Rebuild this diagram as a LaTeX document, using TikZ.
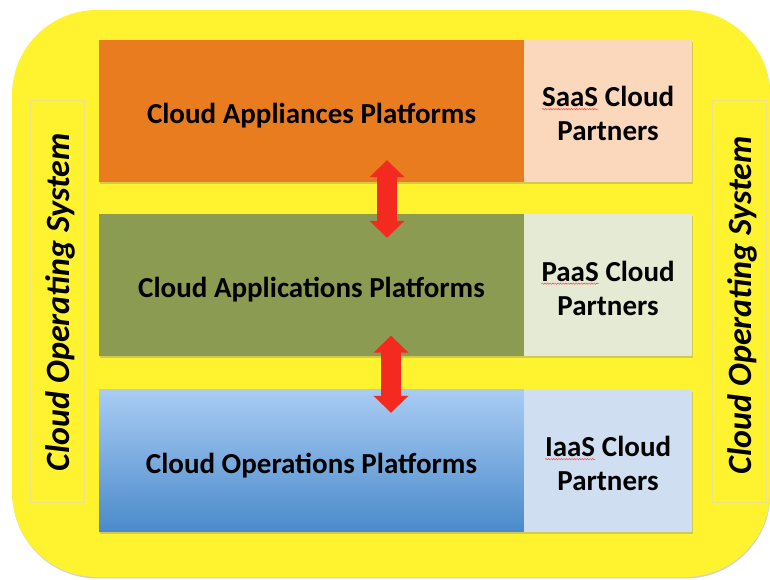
\documentclass[tikz,border=0pt]{standalone}
\usepackage{fontspec}
\setmainfont{Carlito}
\usetikzlibrary{shadows,decorations.pathmorphing,arrows.meta,calc}
\definecolor{osyellow}{HTML}{FFF22E}
\definecolor{sideline}{HTML}{EDE38A}
\definecolor{appl}{HTML}{E97C1F}
\definecolor{saas}{HTML}{FBD7BC}
\definecolor{appg}{HTML}{8B9C52}
\definecolor{paas}{HTML}{E4EAD3}
\definecolor{opstop}{HTML}{A9CCF3}
\definecolor{opsbot}{HTML}{4A8ACB}
\definecolor{iaas}{HTML}{CFDFF1}
\definecolor{arrowred}{HTML}{F4291F}
\newcommand{\wavyword}[1]{\tikz[baseline=(w.base)]{\node[inner sep=0pt,outer sep=0pt,minimum width=0pt,minimum height=0pt,draw=none,fill=none,anchor=base] (w) {#1};\draw[red!75,line width=0.45pt,decorate,decoration={snake,amplitude=0.7pt,segment length=2.6pt}] ([yshift=-2.6pt]w.base west) -- ([yshift=-2.6pt]w.base east);}}
\begin{document}
\begin{tikzpicture}[x=1pt,y=1pt,
  osframe/.style={fill=osyellow,draw=none,rounded corners=85pt,minimum width=758pt,minimum height=567pt,inner sep=0pt,
    drop shadow={shadow xshift=0.5pt,shadow yshift=-1.5pt,opacity=0.35}},
  sidebox/.style={draw=sideline,line width=0.8pt,fill=none,minimum width=54pt,minimum height=402pt,inner sep=0pt},
  sidetext/.style={font=\bfseries\itshape\fontsize{34}{40}\selectfont,rotate=90,inner sep=0pt},
  platform/.style={minimum width=425pt,minimum height=142pt,inner sep=0pt,draw=none,
    drop shadow={shadow xshift=1pt,shadow yshift=-2pt,opacity=0.35}},
  platformtext/.style={font=\bfseries\fontsize{29}{34}\selectfont,inner sep=0pt},
  partner/.style={minimum width=168pt,minimum height=142pt,inner sep=0pt,draw=none,
    drop shadow={shadow xshift=1pt,shadow yshift=-2pt,opacity=0.35}},
  partnertext/.style={font=\bfseries\fontsize{29}{34}\selectfont,align=center,inner sep=0pt},
  blockarrow/.style={draw=arrowred,line width=20pt,
    {Triangle[length=17pt,width=34pt]}-{Triangle[length=17pt,width=34pt]}}
]
\useasboundingbox (0,0) rectangle (770,580);
\fill[white] (0,0) rectangle (770,580);
\node[osframe] (os) at (391,286.5) {};
\node[sidebox] (lbox) at (57,279) {};
\node[sidebox] (rbox) at (739,279) {};
\node[sidetext] (ltext) at (60,278) {Cloud Operating System};
\node[sidetext] (rtext) at (742,275) {Cloud Operating System};

\node[platform,fill=appl] (appl) at (311.5,469) {};
\node[platformtext] (applt) at ([yshift=-4.5pt]appl.center) {Cloud Appliances Platforms};
\node[partner,fill=saas] (saasbox) at (608,469) {};
\node[partnertext] (saast) at ([yshift=-2.5pt]saasbox.center) {\wavyword{SaaS} Cloud\\Partners};

\node[platform,fill=appg] (appg) at (311.5,294.5) {};
\node[platformtext] (appgt) at ([yshift=-4.5pt]appg.center) {Cloud Applications Platforms};
\node[partner,fill=paas] (paasbox) at (608,294.5) {};
\node[partnertext] (paast) at ([yshift=-2.5pt]paasbox.center) {\wavyword{PaaS} Cloud\\Partners};

\node[platform,top color=opstop,bottom color=opsbot] (ops) at (311.5,119) {};
\node[platformtext] (opst) at ([yshift=-4.5pt]ops.center) {Cloud Operations Platforms};
\node[partner,fill=iaas] (iaasbox) at (608,119) {};
\node[partnertext] (iaast) at ([yshift=-2.5pt]iaasbox.center) {\wavyword{IaaS} Cloud\\Partners};

\draw[blockarrow] ([xshift=75.5pt,yshift=22pt]appl.south) -- ([xshift=75.5pt,yshift=-23.5pt]appg.north);
\draw[blockarrow] ([xshift=79.5pt,yshift=21pt]appg.south) -- ([xshift=79.5pt,yshift=-23pt]ops.north);
\end{tikzpicture}
\end{document}
